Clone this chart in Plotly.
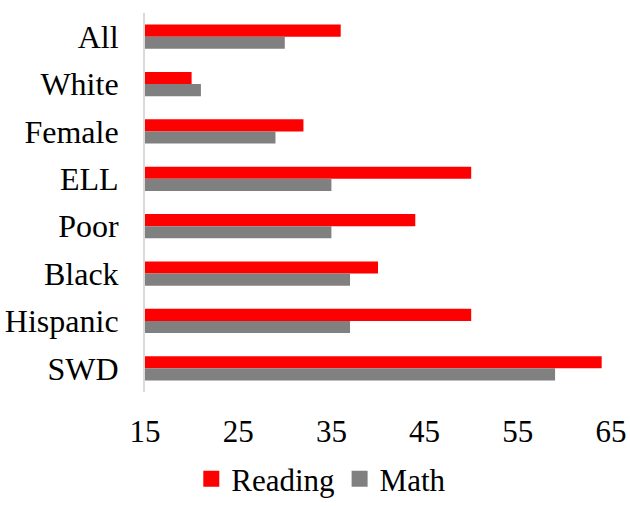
import plotly.graph_objects as go

# Student groups, listed top to bottom
groups = ["All", "White", "Female", "ELL", "Poor", "Black", "Hispanic", "SWD"]
reading = [36, 20, 32, 50, 44, 40, 50, 64]
math = [30, 21, 29, 35, 35, 37, 37, 59]
x_ticks = [15, 25, 35, 45, 55, 65]

series = [("Reading", reading, "#FF0000"), ("Math", math, "#808080")]

FONT = "Liberation Serif"

fig = go.Figure()
for name, values, color in series:
    fig.add_trace(go.Bar(
        y=groups, x=values, orientation="h", name=name,
        marker=dict(color=color, line=dict(width=0)),
        showlegend=False, legendgroup=name,
    ))
# Legend keys drawn as larger squares
for name, values, color in series:
    fig.add_trace(go.Scatter(
        x=[None], y=[None], mode="markers", name=name, legendgroup=name,
        marker=dict(symbol="square", size=16, color=color, line=dict(width=0)),
    ))

fig.update_layout(
    width=630, height=506,
    margin=dict(l=145, r=19, t=13, b=114),
    paper_bgcolor="white", plot_bgcolor="white",
    barmode="group", bargap=0.49, bargroupgap=0,
    font=dict(family=FONT, size=32, color="black"),
    showlegend=True,
    legend=dict(
        orientation="h", xref="container", yref="container",
        x=0.51, xanchor="center", y=-0.026, yanchor="bottom",
        font=dict(family=FONT, size=31, color="black"),
        itemwidth=30, traceorder="normal",
    ),
    xaxis=dict(
        range=[15, 65], tickvals=x_ticks, showgrid=False, zeroline=False,
        showline=False, ticks="", ticklabelstandoff=18, automargin=False,
        tickfont=dict(family=FONT, size=31, color="black"),
    ),
    yaxis=dict(
        categoryorder="array", categoryarray=groups, autorange="reversed",
        showgrid=False, zeroline=False, showline=True, automargin=False,
        linecolor="#D9D9D9", linewidth=2, ticks="", ticklabelstandoff=18,
        tickfont=dict(family=FONT, size=32, color="black"),
    ),
)

fig.write_html("out.html")
